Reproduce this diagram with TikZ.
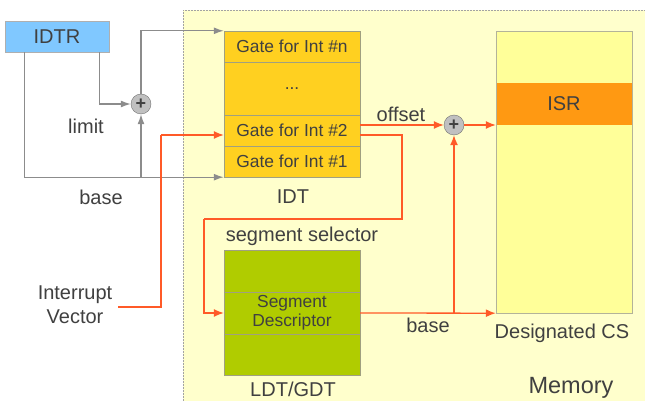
\documentclass[tikz,border=0pt]{standalone}
\usepackage{fontspec}
\setmainfont{Liberation Sans}
\usepackage{xcolor}
\usepackage{tikz}
\usetikzlibrary{arrows.meta,calc}
\definecolor{memfill}{HTML}{FFFFCC}
\definecolor{csfill}{HTML}{FFFF99}
\definecolor{isrfill}{HTML}{FF9912}
\definecolor{idtfill}{HTML}{FFD020}
\definecolor{ldtfill}{HTML}{B0CC00}
\definecolor{idtrfill}{HTML}{80C8FF}
\definecolor{lred}{HTML}{FF5A28}
\definecolor{lgray}{HTML}{8C8C8C}
\definecolor{txt}{HTML}{404040}
\definecolor{rowline}{HTML}{A0A080}

\begin{document}
\begin{tikzpicture}[x=1pt,y=-1pt,
  lbl/.style={font=\fontsize{20}{24}\selectfont,text=txt,inner sep=0pt,align=center},
  row/.style={draw=rowline,fill=idtfill,minimum width=136pt,inner sep=0pt,align=center,
              font=\fontsize{17.4}{19}\selectfont,text=txt},
  lrow/.style={row,fill=ldtfill},
  adder/.style={circle,draw=gray!90!black,fill=lgray!55,minimum size=20pt,inner sep=0pt,
                font=\fontsize{18}{18}\selectfont\bfseries,text=txt},
  garr/.style={draw=lgray,line width=1.3pt,-{Latex[length=10pt,width=7pt]}},
  rarr/.style={draw=lred,line width=1.3pt,-{Latex[length=10pt,width=8pt]}},
  rline/.style={draw=lred,line width=1.3pt}]
\useasboundingbox (0,0) rectangle (645,401);
\fill[memfill] (183,10) rectangle (645,401);
\draw[lgray!80,dashed,dash pattern=on 2pt off 1pt] (183,401) -- (183,10) -- (645,10);

\node[draw=lgray!70,fill=idtrfill,minimum width=104pt,minimum height=31pt,inner sep=0pt,
      font=\fontsize{20}{24}\selectfont,text=txt] (idtr) at (57,36.5) {IDTR};

\node[row,minimum height=31pt] (gn) at (292,46.5) {Gate for Int \#n};
\node[row,minimum height=53pt] (gdots) at (292,88.5) {...};
\node[row,minimum height=31pt] (g2) at (292,130.5) {Gate for Int \#2};
\node[row,minimum height=31pt] (g1) at (292,161.5) {Gate for Int \#1};
\node[lbl] (idt) at (293,197) {IDT};

\node[lrow,minimum height=42pt] (ltop) at (292,271) {};
\node[lrow,minimum height=42pt] (sd) at (292,313) {Segment\\Descriptor};
\node[lrow,minimum height=41pt] (lbot) at (292,354.5) {};
\node[lbl] (ldt) at (293,389.5) {LDT/GDT};

\node[draw=rowline!80,fill=csfill,minimum width=136pt,minimum height=282pt,inner sep=0pt] (cs) at (564,172) {};
\node[fill=isrfill,minimum width=135pt,minimum height=42pt,inner sep=0pt,
      font=\fontsize{20}{24}\selectfont,text=txt] (isr) at (564,104) {ISR};
\node[lbl] (csl) at (562,333) {Designated CS};
\node[lbl,font=\fontsize{23.5}{28}\selectfont] (mem) at (571,388) {Memory};

\node[adder] (add1) at (141,104) {+};
\node[adder] (add2) at (454,125) {+};

\node[lbl] (limit) at (86,126) {limit};
\node[lbl] (base1) at (101,197) {base};
\node[lbl] (offset) at (401,114) {offset};
\node[lbl] (sel) at (302,236) {segment selector};
\node[lbl] (base2) at (428,325) {base};
\node[lbl] (iv) at (75,305) {Interrupt\\Vector};

\draw[garr] ([xshift=-10pt]idtr.south east) |- (add1.west);
\draw[garr] ([xshift=20pt]idtr.south west) |- (g1.south west);
\draw[garr] (add1 |- g1.south west) -- (add1.south);
\draw[garr] (add1.north) |- (gn.north west);

\coordinate (vup) at (161,135);
\coordinate (sturn) at (402,219);
\coordinate (sdown) at (204,219);
\draw[rline] ([xshift=6pt,yshift=-2pt]iv.east) -| (vup);
\draw[rarr] (vup) -- ([yshift=-4.5pt]g2.west);
\draw[rarr] ([yshift=5.5pt]g2.east) -- (add2.west);
\draw[rarr] (add2.east) -- (add2 -| cs.west);
\draw[rline] ([yshift=-4.5pt]g2.east) -| (sturn) -- (sdown);
\draw[rarr] (sdown) |- (sd.west);
\draw[rarr] (sd.east) -- (cs.south west);
\draw[rarr] (add2 |- sd.east) -- (add2.south);
\end{tikzpicture}
\end{document}
